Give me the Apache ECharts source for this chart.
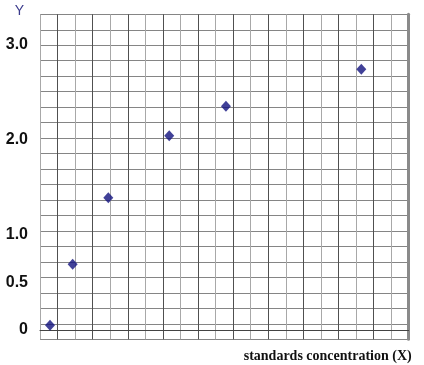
<!DOCTYPE html>
<html>
<head>
<meta charset="utf-8">
<script src="https://cdn.jsdelivr.net/npm/echarts@6/dist/echarts.min.js"></script>
<style>
html,body{margin:0;padding:0;background:#fff;}
#chart{width:424px;height:365px;}
</style>
</head>
<body>
<div id="chart"></div>
<script>
// Data (x in concentration grid units, y in Y units)
var xValues = [0.57, 1.86, 3.89, 7.36, 10.59, 18.30];
var yValues = [0.05, 0.69, 1.39, 2.04, 2.35, 2.74];
var yTickValues = [0, 0.5, 1, 2, 3];
var yTickLabels = ['0', '0.5', '1.0', '2.0', '3.0'];
var xAxisTitle = 'standards concentration (X)';
var yAxisTitle = 'Y';

var points = xValues.map(function (x, i) { return [x, yValues[i]]; });

var chart = echarts.init(document.getElementById('chart'), null, {renderer: 'canvas'});
chart.setOption({
  animation: false,
  backgroundColor: '#ffffff',
  grid: {left: 40, right: 15.3, top: 14.3, bottom: 25.7, containLabel: false},
  xAxis: [{
    type: 'value', min: 0, max: 21, interval: 1,
    name: xAxisTitle, nameLocation: 'end', nameGap: 3,
    nameTextStyle: {fontFamily: 'Liberation Serif', fontWeight: 'bold', fontSize: 14, color: '#111',
      align: 'right', verticalAlign: 'top', padding: [19, 0, 0, 0], lineHeight: 14},
    nameMoveOverlap: false,
    axisLine: {show: true, lineStyle: {color: '#444', width: 1}},
    axisTick: {show: false}, axisLabel: {show: false},
    splitLine: {show: true, lineStyle: {color: ['#a8a8a8', '#505050'], width: 1}}
  }],
  yAxis: [{
    type: 'value', min: -0.098, max: 3.316,
    name: yAxisTitle, nameLocation: 'end', nameGap: -4,
    nameTextStyle: {fontFamily: 'Liberation Sans', fontSize: 14, color: '#3a3a8c', align: 'right', padding: [0, 16, 0, 0]},
    axisLine: {show: false}, axisTick: {show: false},
    axisLabel: {
      show: true, margin: 12, customValues: yTickValues,
      fontFamily: 'Liberation Sans', fontWeight: 'bold', fontSize: 16, color: '#111',
      formatter: function (v) {
        for (var i = 0; i < yTickValues.length; i++) {
          if (Math.abs(yTickValues[i] - v) < 1e-9) return yTickLabels[i];
        }
        return '';
      }
    },
    splitLine: {show: false}
  }, {
    type: 'value', min: 0, max: 21, interval: 1, position: 'right',
    axisLine: {show: true, lineStyle: {color: '#8a8a8a', width: 3}},
    axisTick: {show: false}, axisLabel: {show: false},
    splitLine: {show: true, lineStyle: {color: '#858585', width: 1}}
  }],
  series: [{
    type: 'scatter', xAxisIndex: 0, yAxisIndex: 0,
    data: points, symbol: 'diamond', symbolSize: [10, 11],
    itemStyle: {color: '#12127e'}
  }]
});
</script>
</body>
</html>
